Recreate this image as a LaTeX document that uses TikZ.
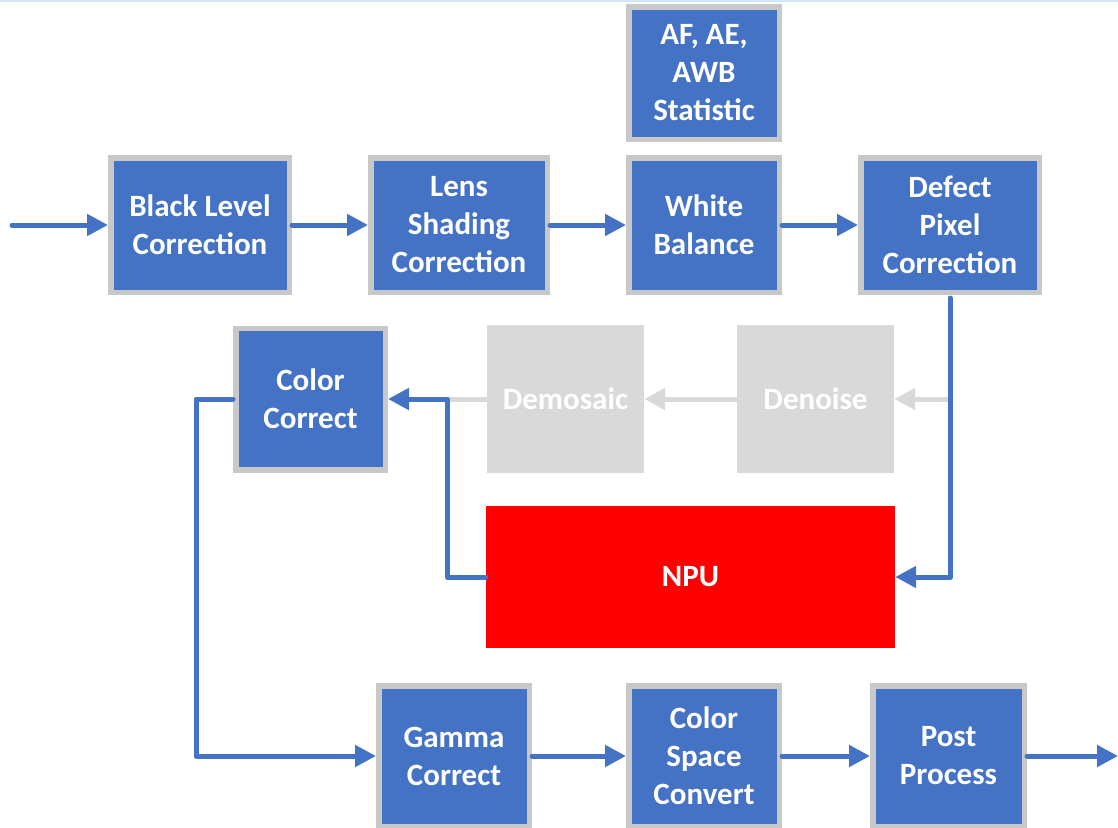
\documentclass[tikz,border=0pt]{standalone}
\usepackage{fontspec}
\setmainfont{Carlito}
\usetikzlibrary{arrows.meta}
\definecolor{blockblue}{HTML}{4472C4}
\definecolor{blockrim}{HTML}{C8C8C8}
\definecolor{idlegrey}{HTML}{D9D9D9}
\definecolor{npured}{HTML}{FF0000}
\definecolor{topline}{HTML}{CDE8F8}
\begin{document}
\begin{tikzpicture}[x=1pt,y=-1pt,
  stage/.style={draw=blockrim, fill=blockblue, line width=5.5pt, inner sep=0pt,
    text=white, align=center, font=\fontsize{31}{38}\selectfont\bfseries},
  idle/.style={draw=none, fill=idlegrey, inner sep=0pt, text=white, align=center,
    font=\fontsize{31}{38}\selectfont\bfseries},
  flow/.style={draw=blockblue, line width=5pt, line cap=round, line join=round,
    -{Triangle[length=21pt,width=21pt]}},
  idleflow/.style={draw=idlegrey, line width=5pt,
    -{Triangle[length=21pt,width=21pt]}}]
\useasboundingbox (0,0) rectangle (1118,827);
\draw[topline, line width=1.5pt] (0,0.75) -- (1118,0.75);

% upper row of stages
\node[stage, minimum width=178.5pt, minimum height=134.5pt] (blc) at (200,225) {Black Level\\Correction};
\node[stage, minimum width=176.5pt, minimum height=134.5pt] (lsc) at (459,225) {Lens\\Shading\\Correction};
\node[stage, minimum width=150.5pt, minimum height=134.5pt] (wb) at (704,225) {White\\Balance};
\node[stage, minimum width=150.5pt, minimum height=132.5pt] (stat) at (704,73) {AF, AE,\\AWB\\Statistic};
\node[stage, minimum width=178.5pt, minimum height=134.5pt] (dpc) at (950,225) {Defect\\Pixel\\Correction};

% middle row
\node[stage, minimum width=149.5pt, minimum height=141.5pt] (cc) at (310.5,399) {Color\\Correct};
\node[idle, minimum width=157pt, minimum height=148pt] (dem) at (565.5,399) {Demosaic};
\node[idle, minimum width=157pt, minimum height=148pt] (den) at (815.5,399) {Denoise};
\node[fill=npured, inner sep=0pt, minimum width=409pt, minimum height=142pt,
  text=white, font=\fontsize{31}{38}\selectfont\bfseries] (npu) at (690.5,577) {NPU};

% lower row
\node[stage, minimum width=150.5pt, minimum height=140.5pt] (gam) at (454,756) {Gamma\\Correct};
\node[stage, minimum width=150.5pt, minimum height=140.5pt] (csc) at (704,756) {Color\\Space\\Convert};
\node[stage, minimum width=151.5pt, minimum height=140.5pt] (pp) at (948.5,756) {Post\\Process};

% helper points
\coordinate (in) at (12,225);
\coordinate (out) at (1118,756);
\coordinate (tap) at (950,399);
\coordinate (turn) at (447,399);
\coordinate (drop) at (196,399);

% bypassed (grey) path
\draw[idleflow] (tap) -- (den.east);
\draw[idleflow] (den.west) -- (dem.east);
\draw[draw=idlegrey, line width=5pt] (dem.west) -- (turn);

% active path
\draw[flow] (in) -- (blc.west);
\draw[flow] (blc.east) -- (lsc.west);
\draw[flow] (lsc.east) -- (wb.west);
\draw[flow] (wb.east) -- (dpc.west);
\draw[flow] ([yshift=-3pt]dpc.south) |- (npu.east);
\draw[flow] (npu.west) -| (turn) -- (cc.east);
\draw[flow] (cc.west) -- (drop) |- (gam.west);
\draw[flow] (gam.east) -- (csc.west);
\draw[flow] (csc.east) -- (pp.west);
\draw[flow] (pp.east) -- (out);
\end{tikzpicture}
\end{document}
